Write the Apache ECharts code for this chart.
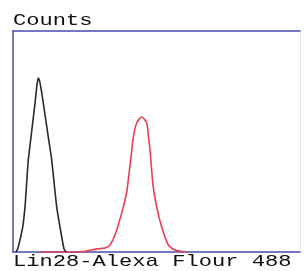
<!DOCTYPE html>
<html><head><meta charset="utf-8">
<script src="https://cdn.jsdelivr.net/npm/echarts@6/dist/echarts.min.js"></script>
<style>html,body{margin:0;padding:0;background:#fff}#c{width:304px;height:271px}</style>
</head><body><div id="c"></div>
<script>
// Fluorescence channel (0-1000) and counts (0-100, % of axis)
const controlX = [10.5,17.4,33.8,41.8,48.0,53.3,62.7,76.7,83.6,88.2,94.1,105.6,123.0,134.8,152.3,163.8,177.7,184.7];
const controlY = [0,1.8,11.3,20.4,32.0,41.6,52.0,67.4,75.6,78.7,76.5,67.4,52.0,41.6,20.4,11.3,1.4,0];
const sampleX = [94.1,233.4,291.6,320.6,338.0,355.4,378.7,396.2,401.7,411.1,419.2,431.0,448.4,465.9,471.4,477.4,482.6,487.8,500.7,518.1,541.1,564.5,592.3,602.8];
const sampleY = [0,0,1.4,1.8,3.2,7.7,17.6,27.1,32.6,43.0,52.0,58.4,61.1,58.4,52.9,46.2,38.0,30.3,20.4,11.3,3.2,0.9,0.2,0];
const yTitle = 'Counts';
const xTitle = 'Lin28-Alexa Flour 488';

const zip = (a,b) => a.map((v,i)=>[v,b[i]]);
const chart = echarts.init(document.getElementById('c'), null, {renderer:'canvas'});
const border = '#4b4bad';
const font = '"Liberation Mono", "DejaVu Sans Mono", monospace';
chart.setOption({
  animation:false,
  grid:{left:13, right:4, top:31, bottom:19},
  xAxis:[
    {type:'value', min:0, max:1000, position:'bottom',
     axisLine:{show:true, lineStyle:{color:border, width:1.5}}, axisTick:{show:false}, axisLabel:{show:false}, splitLine:{show:false}},
    {type:'value', min:0, max:1000, position:'top',
     axisLine:{show:true, onZero:false, lineStyle:{color:border, width:1.5}}, axisTick:{show:false}, axisLabel:{show:false}, splitLine:{show:false}}
  ],
  yAxis:[
    {type:'value', min:0, max:100, position:'left',
     axisLine:{show:true, onZero:false, lineStyle:{color:border, width:1.5}}, axisTick:{show:false}, axisLabel:{show:false}, splitLine:{show:false}},
    {type:'value', min:0, max:100, position:'right',
     axisLine:{show:true, onZero:false, lineStyle:{color:'#e4e4f2', width:1}}, axisTick:{show:false}, axisLabel:{show:false}, splitLine:{show:false}}
  ],
  series:[
    {type:'line', data:zip(controlX,controlY), showSymbol:false, smooth:0.25,
     lineStyle:{color:'#2a2a2a', width:1.6}, z:3},
    {type:'line', data:zip(sampleX,sampleY), showSymbol:false, smooth:0.25,
     lineStyle:{color:'#ea3d52', width:1.6}, z:2}
  ],
  graphic:[
    {type:'text', left:13, top:12, scaleX:1.3, style:{text:yTitle, font:'17px '+font, fill:'#111'}},
    {type:'text', left:13, top:253, scaleX:1.3, style:{text:xTitle, font:'17px '+font, fill:'#111'}}
  ]
});
</script></body></html>
